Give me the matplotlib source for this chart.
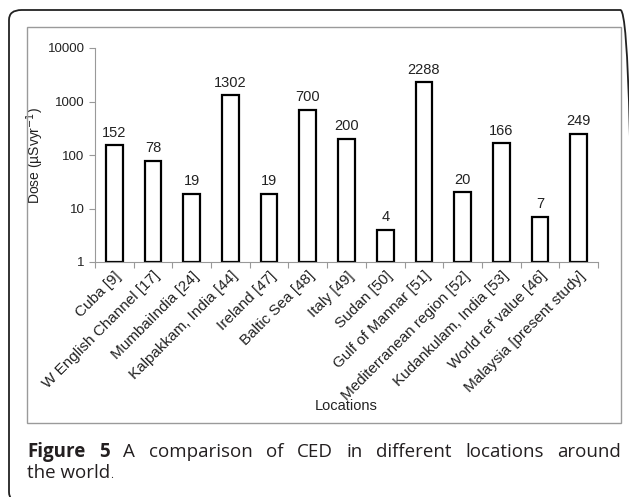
import numpy as np
import matplotlib
matplotlib.use("Agg")
import matplotlib.pyplot as plt
from matplotlib.patches import Rectangle, FancyBboxPatch

# data
locations = ["Cuba [9]", "W English Channel [17]", "MumbaiIndia [24]",
             "Kalpakkam, India [44]", "Ireland [47]", "Baltic Sea [48]",
             "Italy [49]", "Sudan [50]", "Gulf of Mannar [51]",
             "Mediterranean region [52]", "Kudankulam, India [53]",
             "World ref value [46]", "Malaysia [present study]"]
dose = [152, 78, 19, 1302, 19, 700, 200, 4, 2288, 20, 166, 7, 249]
yticks = [1, 10, 100, 1000, 10000]

W, H = 629, 497
plt.rcParams['font.family'] = ['Liberation Sans', 'DejaVu Sans']
fig = plt.figure(figsize=(W / 100, H / 100), dpi=100)

def fx(px):
    return px / W

def fy(py):
    return 1 - py / H

# outer rounded frame (cut off at the right) and inner chart box
frame = FancyBboxPatch((fx(9), fy(502)), fx(633) - fx(9), fy(10) - fy(502),
                       boxstyle="round,pad=0,rounding_size=0.02",
                       transform=fig.transFigure, fill=False,
                       edgecolor='#222222', linewidth=1.3, clip_on=False)
fig.patches.append(frame)
box = Rectangle((fx(27), fy(423)), fx(621) - fx(27), fy(27) - fy(423),
                transform=fig.transFigure, fill=False,
                edgecolor='#9a9a9a', linewidth=1.0)
fig.patches.append(box)

ax = fig.add_axes([fx(95), fy(262), fx(598) - fx(95), fy(48) - fy(262)])
x = np.arange(len(locations))
bars = ax.bar(x, [d - 1 for d in dose], bottom=1, width=0.43,
              color='white', edgecolor='black', linewidth=1.6)
ax.set_yscale('log')
ax.set_ylim(1, 10000)
ax.set_xlim(-0.5, len(locations) - 0.5)
ax.set_yticks(yticks)
ax.set_yticklabels([str(t) for t in yticks], fontsize=9.5, color='#222222')
ax.minorticks_off()
ax.set_xticks(x)
ax.set_xticklabels(locations, rotation=45, ha='right', rotation_mode='anchor',
                   fontsize=11, color='#222222')
ax.tick_params(axis='x', length=0, pad=5)
# category boundary ticks on x axis
ax.set_xticks(np.arange(-0.5, len(locations), 1), minor=True)
ax.tick_params(axis='x', which='minor', length=4, color='#999999', width=0.8)
ax.tick_params(axis='y', length=4, color='#999999', width=0.8)
for s in ['top', 'right']:
    ax.spines[s].set_visible(False)
for s in ['left', 'bottom']:
    ax.spines[s].set_color('#999999')
    ax.spines[s].set_linewidth(0.8)

for xi, d in zip(x, dose):
    ax.annotate(str(d), (xi, d), xytext=(0, 4), textcoords='offset points',
                ha='center', va='bottom', fontsize=10.5, color='#222222')

ax.set_ylabel("Dose (µSvyr$^{-1}$)", fontsize=10, color='#222222')
ax.yaxis.set_label_coords((46 - 95) / 503, 0.5)
fig.text(fx(346), fy(406), "Locations", ha='center', va='center',
         fontsize=10.5, color='#222222')

# justified caption line 1, then line 2
cap_font = ['Open Sans', 'DejaVu Sans']
cap_col = '#231f20'
words = [("Figure", 'bold'), ("5", 'bold'), ("A", 'normal'), ("comparison", 'normal'),
         ("of", 'normal'), ("CED", 'normal'), ("in", 'normal'), ("different", 'normal'),
         ("locations", 'normal'), ("around", 'normal')]
renderer = fig.canvas.get_renderer()
texts = []
for w, wt in words:
    t = fig.text(0, fy(457), w, fontsize=13.5, fontweight=wt, family=cap_font,
                 color=cap_col, va='baseline')
    texts.append(t)
widths = [t.get_window_extent(renderer).width for t in texts]
gap = (621 - 27 - sum(widths)) / (len(words) - 1)
pos = 27
for t, w in zip(texts, widths):
    t.set_x(fx(pos))
    pos += w + gap
line2 = fig.text(fx(27), fy(478), "the world", fontsize=13.5, family=cap_font,
                 color=cap_col, va='baseline')
ext = line2.get_window_extent(renderer)
fig.text(fx(27) + ext.width / W, fy(478), ".", fontsize=8, family=cap_font,
         color=cap_col, va='baseline')

fig.savefig("out.png", dpi=100)
